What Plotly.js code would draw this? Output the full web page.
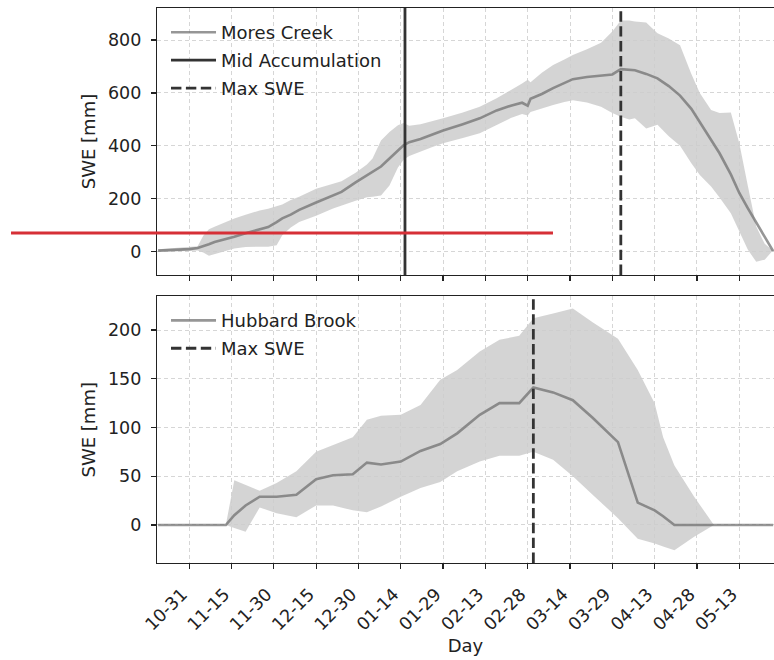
<!DOCTYPE html>
<html>
<head>
<meta charset="utf-8">
<script src="https://cdn.plot.ly/plotly-3.0.1.min.js"></script>
<style>html,body{margin:0;padding:0;background:#fff;overflow:hidden;}#chart{width:774px;height:660px;}</style>
</head>
<body>
<div id="chart"></div>
<script>
// Tick labels (x axis is day index, Oct 1 = 0)
const tickDays = [30, 45, 60, 75, 90, 105, 120, 135, 150, 165, 180, 195, 210, 225];
const tickLabels = ["10-31","11-15","11-30","12-15","12-30","01-14","01-29","02-13","02-28","03-14","03-29","04-13","04-28","05-13"];

// Mores Creek
const moresDays  = [19,25,30,33,35,37,39,42,46,50,55,58,61,63,66,69,75,81,84,89,93,95,98,101,104,106,108,112,116,120,127,133,139,144,148,150,151,155,159,163,166,171,176,180,183,186,188,192,196,200,204,208,211,215,218,222,225,228,231,234,237];
const moresMean  = [4,7,10,14,20,28,37,45,57,70,84,93,112,126,140,158,186,212,226,262,288,302,322,352,383,402,414,426,442,458,482,504,534,552,563,552,578,596,618,638,652,660,664,670,690,688,686,672,655,626,590,540,490,425,372,292,222,165,110,58,2];
const moresUpper = [9,13,17,21,60,85,94,108,126,140,156,162,170,178,195,208,238,256,266,298,330,352,420,452,478,486,476,482,492,504,526,548,580,610,636,650,640,676,706,726,743,765,790,832,874,874,870,866,826,806,780,672,600,536,524,526,410,250,95,30,4];
const moresLower = [0,1,3,5,-3,-15,-10,1,12,18,19,19,24,62,92,112,136,163,175,193,206,208,212,250,318,348,362,378,395,410,430,448,480,505,520,515,528,540,554,566,572,564,548,524,510,500,504,466,480,436,400,334,290,246,205,145,78,8,-38,-30,6];
const midAccumDay = 106.5;

// Hubbard Brook
const hubDays  = [19,43,46,50,55,61,68,75,81,88,93,98,105,112,119,125,133,140,147,152,159,166,173,182,189,195,198,202,209,216,237];
const hubMean  = [0,0,10,20,29,29,31,47,51,52,64,62,65,76,83,94,113,125,125,141,136,128,110,85,23,15,9,0,0,0,0];
const hubUpper = [0,0,46,41,35,43,55,75,82,90,108,112,113,123,149,159,178,190,194,212,217,222,208,191,159,125,90,61,29,0,0];
const hubLower = [0,0,-3,-7,18,12,8,20,20,15,13,19,29,38,44,55,65,71,71,75,67,50,31,7,-14,-19,-22,-26,-12,0,0];

const xRange = [18.6, 237.3];
const yTopRange = [-88, 921];
const yBotRange = [-39, 234.4];

function argmaxDay(days, vals){ let k=0; for(let i=1;i<vals.length;i++){ if(vals[i]>vals[k]) k=i; } return days[k]; }
const moresMaxDay = argmaxDay(moresDays, moresMean);
const hubMaxDay = argmaxDay(hubDays, hubMean);

const bandColor = 'rgba(205,205,205,0.85)';
const meanColor = 'rgba(110,110,110,0.72)';
const darkColor = '#333333';
const LW = 2.6;
const dashPat = '10.4px,4.5px';

function band(days, up, lo, xa, ya){
  return {x: days.concat(days.slice().reverse()), y: up.concat(lo.slice().reverse()),
    type:'scatter', mode:'lines', fill:'toself', fillcolor: bandColor, line:{width:0, color:'rgba(0,0,0,0)'},
    hoverinfo:'skip', showlegend:false, xaxis: xa, yaxis: ya};
}

const traces = [
  band(moresDays, moresUpper, moresLower, 'x', 'y'),
  {x: moresDays, y: moresMean, type:'scatter', mode:'lines', name:'Mores Creek', legendgroup:'a', line:{color:meanColor, width:LW}, xaxis:'x', yaxis:'y', legend:'legend'},
  {x:[midAccumDay, midAccumDay], y: yTopRange, type:'scatter', mode:'lines', name:'Mid Accumulation', legendgroup:'b', line:{color:darkColor, width:2.8}, xaxis:'x', yaxis:'y', legend:'legend'},
  {x:[moresMaxDay, moresMaxDay], y: yTopRange, type:'scatter', mode:'lines', name:'Max SWE', legendgroup:'c', line:{color:darkColor, width:2.8, dash:dashPat}, xaxis:'x', yaxis:'y', legend:'legend'},
  band(hubDays, hubUpper, hubLower, 'x2', 'y2'),
  {x: hubDays, y: hubMean, type:'scatter', mode:'lines', name:'Hubbard Brook', legendgroup:'d', line:{color:meanColor, width:LW}, xaxis:'x2', yaxis:'y2', legend:'legend2'},
  {x:[hubMaxDay, hubMaxDay], y: yBotRange, type:'scatter', mode:'lines', name:'Max SWE', legendgroup:'e', line:{color:darkColor, width:2.8, dash:dashPat}, xaxis:'x2', yaxis:'y2', legend:'legend2'}
];

const axisCommon = {
  showline:true, linecolor:'#222', linewidth:1.2,
  ticks:'outside', ticklen:5, tickwidth:1.2, tickcolor:'#222',
  showgrid:true, gridcolor:'#d6d6d6', gridwidth:1, griddash:'4px,3px',
  zeroline:false, tickfont:{size:17.5, color:'#222'}, ticklabelstandoff:6
};

const layout = {
  width:774, height:660,
  margin:{l:157, r:0, t:8, b:97},
  paper_bgcolor:'#fff', plot_bgcolor:'#fff',
  font:{family:'DejaVu Sans', size:18, color:'#222'},
  xaxis: Object.assign({}, axisCommon, {domain:[0,1], anchor:'y', range:xRange, tickvals:tickDays, ticktext:tickLabels, showticklabels:false, mirror:true}),
  yaxis: Object.assign({}, axisCommon, {domain:[0.5189,1], anchor:'x', range:yTopRange, tickvals:[0,200,400,600,800], mirror:false,
    title:{text:'SWE [mm]', font:{size:18, color:'#222'}, standoff:7}}),
  xaxis2: Object.assign({}, axisCommon, {domain:[0,1], anchor:'y2', range:xRange, tickvals:tickDays, ticktext:tickLabels, tickangle:-45, mirror:true, ticklabelstandoff:8, ticklabelshift:-7,
    title:{text:'Day', font:{size:18, color:'#222'}, standoff:6}}),
  yaxis2: Object.assign({}, axisCommon, {domain:[0,0.4802], anchor:'x2', range:yBotRange, tickvals:[0,50,100,150,200], mirror:false,
    title:{text:'SWE [mm]', font:{size:18, color:'#222'}, standoff:7}}),
  legend:{x:0.0146, y:0.989, xanchor:'left', yanchor:'top', bgcolor:'rgba(0,0,0,0)', borderwidth:0, itemwidth:45, traceorder:'grouped', tracegroupgap:1.5, font:{size:18, color:'#222'}},
  legend2:{x:0.0146, y:0.470, xanchor:'left', yanchor:'top', bgcolor:'rgba(0,0,0,0)', borderwidth:0, itemwidth:45, traceorder:'grouped', tracegroupgap:1.5, font:{size:18, color:'#222'}},
  shapes:[
    {type:'line', xref:'paper', yref:'paper', x0:-0.2366, x1:0.6418, y0:0.5946, y1:0.5946, line:{color:'#d62f36', width:3}, layer:'above'}
  ],
  showlegend:true
};

Plotly.newPlot('chart', traces, layout, {displayModeBar:false, staticPlot:true});
</script>
</body>
</html>
